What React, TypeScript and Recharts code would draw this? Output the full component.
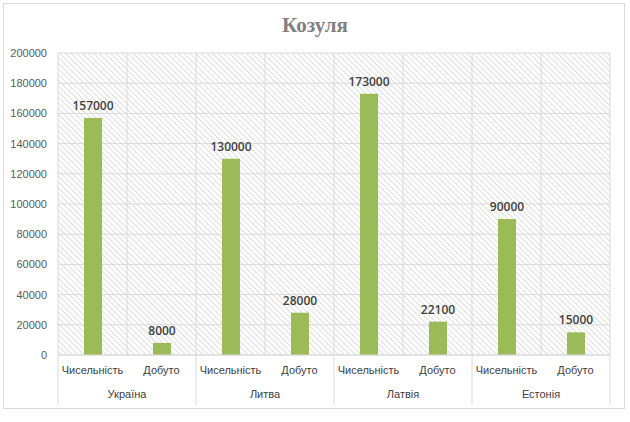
import React from "react";
import {
  BarChart,
  Bar,
  XAxis,
  YAxis,
  CartesianGrid,
  LabelList,
} from "recharts";

const categories = [
  "Чисельність",
  "Добуто",
  "Чисельність",
  "Добуто",
  "Чисельність",
  "Добуто",
  "Чисельність",
  "Добуто",
];
const groups = ["Україна", "Литва", "Латвія", "Естонія"];
const values = [157000, 8000, 130000, 28000, 173000, 22100, 90000, 15000];
const yTicks = [0, 20000, 40000, 60000, 80000, 100000, 120000, 140000, 160000, 180000, 200000];

const data = values.map((v, i) => ({
  name: categories[i],
  group: groups[Math.floor(i / 2)],
  value: v,
}));

const W = 630;
const H = 422;
const GRID = "#d9d9d9";
const FONT = "'Liberation Sans', Arial, sans-serif";

function GroupTick(props: any) {
  const { x, y, index } = props;
  const band = (W - 58 - 20) / categories.length;
  const top = y - 8;
  return (
    <g>
      <text
        x={x}
        y={top + 19}
        textAnchor="middle"
        fontSize={11}
        fill="#404040"
        fontFamily={FONT}
      >
        {categories[index]}
      </text>
      {index % 2 === 0 && (
        <>
          <line x1={x - band / 2} x2={x - band / 2} y1={top} y2={top + 50} stroke={GRID} />
          <text
            x={x + band / 2}
            y={top + 43}
            textAnchor="middle"
            fontSize={11}
            fill="#404040"
            fontFamily={FONT}
          >
            {groups[index / 2]}
          </text>
        </>
      )}
      {index === categories.length - 1 && (
        <line x1={x + band / 2} x2={x + band / 2} y1={top} y2={top + 50} stroke={GRID} />
      )}
    </g>
  );
}

export default function App() {
  return (
    <div style={{ position: "absolute", left: 0, top: 0, width: W, height: H, background: "#fff" }}>
      <div
        style={{
          position: "absolute",
          left: 3,
          top: 3,
          width: 622,
          height: 406,
          border: `1px solid ${GRID}`,
          boxSizing: "border-box",
        }}
      />
      <div
        style={{
          position: "absolute",
          left: 0,
          top: 13,
          width: W,
          textAlign: "center",
          fontFamily: "'Liberation Serif', 'DejaVu Serif', serif",
          fontWeight: "bold",
          fontSize: 21,
          color: "#7f7f7f",
        }}
      >
        Козуля
      </div>
      <BarChart
        width={W}
        height={H}
        data={data}
        margin={{ top: 53, right: 20, bottom: 17, left: 8 }}
        barCategoryGap={0}
        style={{ position: "absolute", left: 0, top: 0 }}
      >
        <defs>
          <pattern
            id="hatch"
            patternUnits="userSpaceOnUse"
            width={4}
            height={4}
            patternTransform="rotate(-45)"
          >
            <line x1={0} y1={0} x2={0} y2={4} stroke="#bdbdbd" strokeWidth={1} />
          </pattern>
        </defs>
        <CartesianGrid
          stroke={GRID}
          fill="url(#hatch)"
          fillOpacity={1}
          verticalCoordinatesGenerator={({ offset }: any) =>
            categories.map((_, i) => offset.left + (i * offset.width) / categories.length).concat(offset.left + offset.width)
          }
        />
        <XAxis
          dataKey="name"
          allowDuplicatedCategory
          axisLine={{ stroke: GRID }}
          tickLine={false}
          interval={0}
          height={50}
          tick={<GroupTick />}
        />
        <YAxis
          domain={[0, 200000]}
          ticks={yTicks}
          width={50}
          axisLine={false}
          tickLine={false}
          tickMargin={5}
          tick={{ fontSize: 11, fill: "#595959", fontFamily: FONT }}
        />
        <Bar dataKey="value" fill="#9bbb59" barSize={18} isAnimationActive={false}>
          <LabelList
            dataKey="value"
            position="top"
            offset={8}
            fill="#404040"
            fontSize={12}
            fontWeight={600}
            fontFamily="'Open Sans', sans-serif"
          />
        </Bar>
      </BarChart>
    </div>
  );
}
